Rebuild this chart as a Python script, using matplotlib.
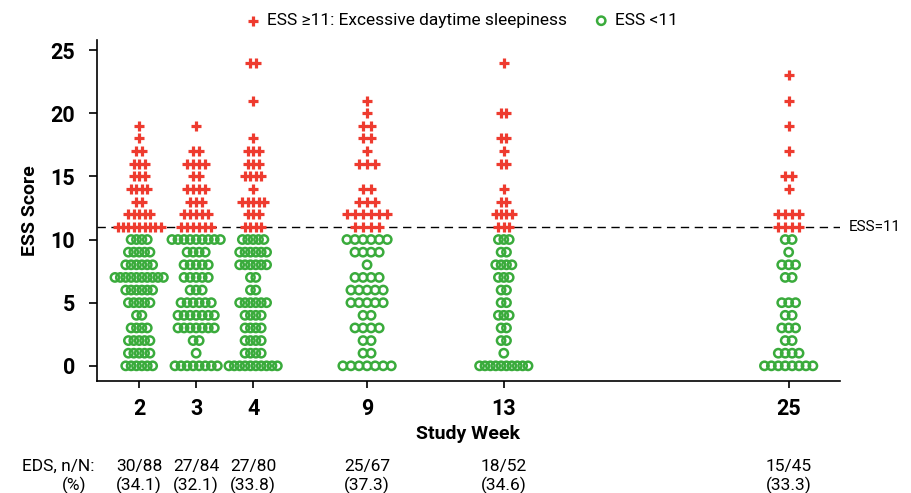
import numpy as np
import matplotlib
matplotlib.use("Agg")
import matplotlib.pyplot as plt
import matplotlib.transforms as mtransforms

plt.rcParams['font.family'] = ['Roboto', 'DejaVu Sans']

# ---- データ --------------------------------------------------------
weeks = [2, 3, 4, 9, 13, 25]
week_pos = [0, 1, 2, 4, 6.4, 11.4]   # 横軸上の配置（等間隔ではない）
scores = list(range(25))             # ESS 0..24
eds_cut = 11                         # ESS >= 11 を EDS とする

# 各週の人数（index = ESS スコア）
counts_w2 = [6, 5, 5, 4, 2, 5, 6, 10, 6, 5, 4, 9, 5, 2, 4, 3, 3, 2, 1, 1, 0, 0, 0, 0, 0]
counts_w3 = [8, 1, 2, 7, 7, 6, 3, 5, 5, 4, 9, 6, 5, 3, 4, 2, 4, 2, 0, 1, 0, 0, 0, 0, 0]
counts_w4 = [10, 4, 4, 4, 4, 6, 2, 2, 6, 6, 5, 4, 3, 5, 1, 4, 3, 3, 1, 0, 0, 1, 0, 0, 2]
counts_w9 = [7, 2, 2, 4, 2, 5, 5, 4, 1, 4, 6, 4, 6, 3, 2, 0, 3, 1, 2, 2, 1, 1, 0, 0, 0]
counts_w13 = [10, 1, 2, 2, 3, 2, 2, 3, 4, 2, 3, 3, 4, 2, 1, 0, 2, 1, 2, 0, 2, 0, 0, 0, 1]
counts_w25 = [8, 4, 2, 3, 2, 3, 0, 2, 3, 1, 2, 4, 4, 0, 1, 2, 0, 1, 0, 1, 0, 1, 0, 1, 0]
counts = [counts_w2, counts_w3, counts_w4, counts_w9, counts_w13, counts_w25]

RED = "#ee3b2f"
GREEN = "#3aab3c"
STEP_MAX = 0.146   # 1行内の点の最大間隔（データ単位）
SPAN_MAX = 0.85    # 1行の点を並べる最大幅

PLUS_KW = dict(marker="+", s=48, color=RED, linewidths=2.3, zorder=3)
CIRC_KW = dict(marker="o", s=36, facecolors="none", edgecolors=GREEN, linewidths=1.8, zorder=3)


def swarm_points(x0, cnt):
    """スコアごとに横へ並べた点の座標を返す"""
    cnt = np.asarray(cnt)
    step = min(STEP_MAX, SPAN_MAX / max(cnt.max() - 1, 1))
    xs, ys = [], []
    for s, n in zip(scores, cnt):
        if n == 0:
            continue
        off = (np.arange(n) - (n - 1) / 2) * step
        xs.extend(x0 + off)
        ys.extend([s] * n)
    return np.array(xs), np.array(ys)


fig = plt.figure(figsize=(9.11, 4.93), dpi=100)
ax = fig.add_axes([0.1065, 0.2272, 0.8155, 0.6917])

for x0, cnt in zip(week_pos, counts):
    xs, ys = swarm_points(x0, cnt)
    hi = ys >= eds_cut
    ax.scatter(xs[hi], ys[hi], **PLUS_KW)
    ax.scatter(xs[~hi], ys[~hi], **CIRC_KW)

ax.axhline(eds_cut, color="black", lw=1.0, ls=(0, (6, 4)), zorder=2)
ax.text(1.012, eds_cut, "ESS=11",
        transform=mtransforms.blended_transform_factory(ax.transAxes, ax.transData),
        ha="left", va="center", fontsize=11, clip_on=False)

ax.set_xlim(-0.74, 12.3)
ax.set_ylim(-1.2, 25.8)
ax.set_xticks(week_pos, [str(w) for w in weeks])
ax.set_yticks(range(0, 26, 5))
for lab in ax.get_xticklabels() + ax.get_yticklabels():
    lab.set_fontweight("bold")
    lab.set_fontsize(15.5)
ax.tick_params(axis="y", length=6, width=1.2, pad=10)
ax.tick_params(axis="x", length=5, width=1.2, pad=7)
for side in ("top", "right"):
    ax.spines[side].set_visible(False)
for side in ("left", "bottom"):
    ax.spines[side].set_linewidth(1.2)

ax.set_xlabel("Study Week", fontsize=14, fontweight="bold", labelpad=4)
ax.set_ylabel("ESS Score", fontsize=14, fontweight="bold", labelpad=8)

# 凡例
h_hi = ax.scatter([], [], **PLUS_KW)
h_lo = ax.scatter([], [], **CIRC_KW)
fig.legend([h_hi, h_lo], ["ESS \u226511: Excessive daytime sleepiness", "ESS <11"],
           loc="center", bbox_to_anchor=(0.506, 0.958), ncol=2, frameon=False,
           fontsize=12.5, handletextpad=0.3, columnspacing=1.5, handlelength=1.0)

# 下部の EDS 集計
tr = mtransforms.blended_transform_factory(ax.transData, fig.transFigure)
y_n, y_pct = 1 - 466 / 493, 1 - 485 / 493
fig.text(95 / 911, y_n, "EDS, n/N:", ha="right", va="center", fontsize=12.5)
fig.text(86 / 911, y_pct, "(%)", ha="right", va="center", fontsize=12.5)
for x0, cnt in zip(week_pos, counts):
    cnt = np.asarray(cnt)
    n_eds = int(cnt[eds_cut:].sum())
    n_tot = int(cnt.sum())
    ax.text(x0, y_n, f"{n_eds}/{n_tot}", transform=tr, ha="center", va="center",
            fontsize=12.5, clip_on=False)
    ax.text(x0, y_pct, f"({100 * n_eds / n_tot:.1f})", transform=tr, ha="center",
            va="center", fontsize=12.5, clip_on=False)

fig.savefig("out.png", dpi=100)
